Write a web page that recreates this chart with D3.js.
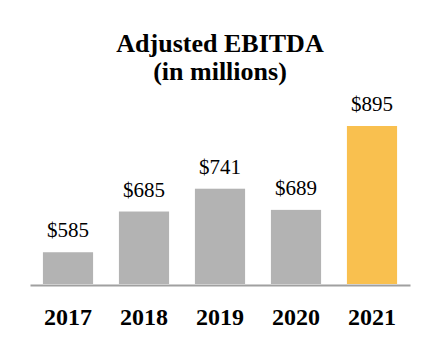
<!DOCTYPE html>
<html><head><meta charset="utf-8">
<script src="https://cdn.jsdelivr.net/npm/d3@7"></script>
<style>html,body{margin:0;padding:0;background:#fff;}</style>
</head><body>
<svg id="chart" width="440" height="360"></svg>
<script>
const years = ["2017", "2018", "2019", "2020", "2021"];
const values = [585, 685, 741, 689, 895];
const valueLabels = ["$585", "$685", "$741", "$689", "$895"];
const titleLines = ["Adjusted EBITDA", "(in millions)"];

const svg = d3.select("#chart");
const font = "'Liberation Serif','Times New Roman',Times,serif";
const x = d3.scaleBand().domain(years).range([30, 410]).paddingInner(0.34).paddingOuter(0.17);
const y = d3.scaleLinear().domain([507, 895]).range([284, 126]);

svg.selectAll("text.title").data(titleLines).join("text")
  .attr("class", "title")
  .attr("x", 220).attr("y", (d, i) => 52 + i * 28)
  .attr("text-anchor", "middle")
  .attr("font-family", font).attr("font-weight", "bold").attr("font-size", 26)
  .attr("fill", "#000").text(d => d);

svg.selectAll("rect.bar").data(values).join("rect")
  .attr("class", "bar")
  .attr("x", (d, i) => x(years[i]))
  .attr("width", x.bandwidth())
  .attr("y", d => y(d))
  .attr("height", d => y.range()[0] - y(d))
  .attr("fill", (d, i) => i === values.length - 1 ? "#f9c04f" : "#b3b3b3");

svg.selectAll("text.val").data(values).join("text")
  .attr("class", "val")
  .attr("x", (d, i) => x(years[i]) + x.bandwidth() / 2)
  .attr("y", d => y(d) - 15)
  .attr("text-anchor", "middle")
  .attr("font-family", font).attr("font-size", 21)
  .attr("fill", "#000").text((d, i) => valueLabels[i]);

const axis = d3.axisBottom(x).tickSize(0).tickPadding(0);
const g = svg.append("g").attr("transform", "translate(0,285)").call(axis);
g.select(".domain").attr("stroke", "#a0a0a0").attr("stroke-width", 2);
g.selectAll(".tick text")
  .attr("y", 40).attr("dy", 0)
  .attr("font-family", font).attr("font-weight", "bold").attr("font-size", 24)
  .attr("fill", "#000");
</script>
</body></html>
